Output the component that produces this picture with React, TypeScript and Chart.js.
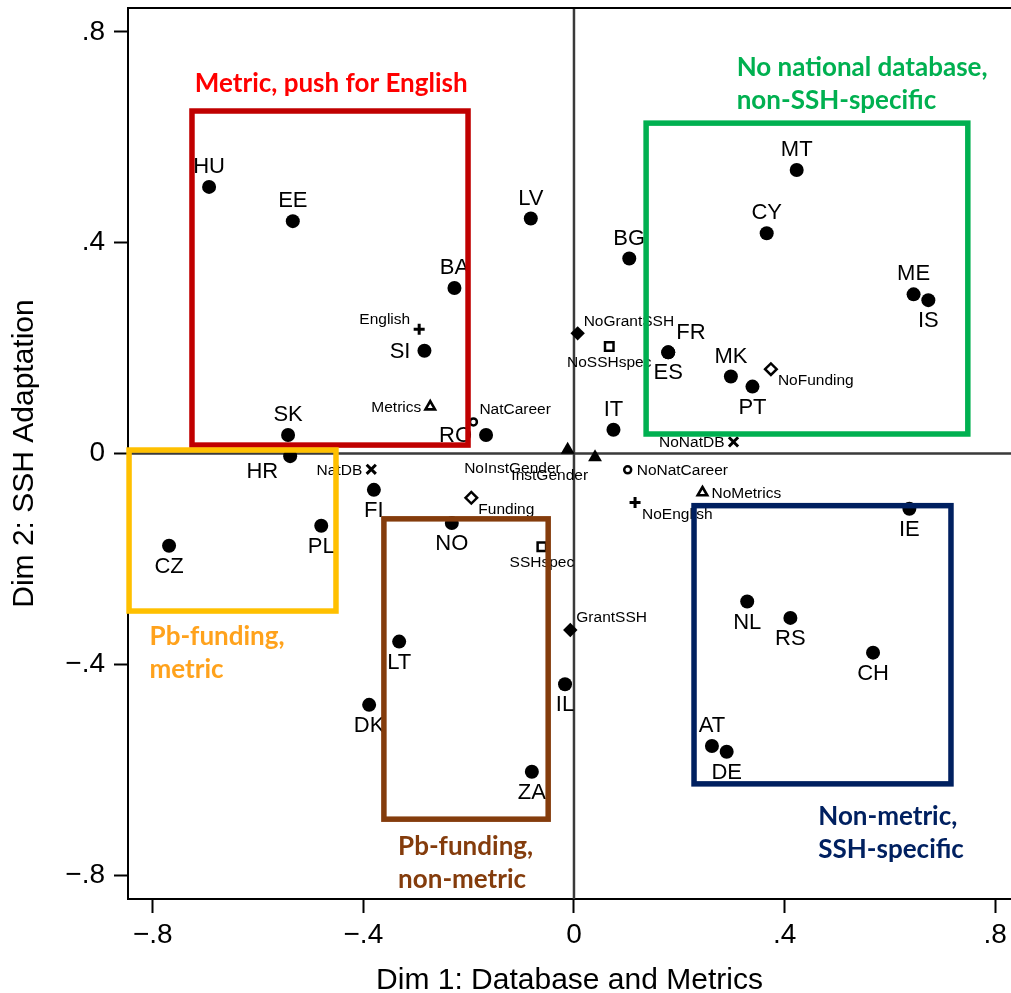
import React, { useEffect, useRef } from 'react';
import { Chart, registerables } from 'chart.js';

Chart.register(...registerables);

// ---------- data ----------
const countryCodes = ['HU', 'EE', 'BA', 'SI', 'SK', 'HR', 'RO', 'LV', 'BG', 'IT', 'FR', 'ES', 'MK', 'PT', 'MT', 'CY', 'ME', 'IS', 'FI', 'PL', 'CZ', 'NO', 'LT', 'DK', 'IL', 'ZA', 'IE', 'NL', 'RS', 'CH', 'AT', 'DE'];
const countryDim1 = [-0.693, -0.534, -0.227, -0.284, -0.543, -0.539, -0.167, -0.082, 0.105, 0.075, 0.179, 0.179, 0.298, 0.339, 0.423, 0.366, 0.645, 0.673, -0.380, -0.480, -0.769, -0.232, -0.332, -0.389, -0.017, -0.080, 0.637, 0.329, 0.411, 0.568, 0.262, 0.290];
const countryDim2 = [0.506, 0.441, 0.314, 0.195, 0.035, -0.005, 0.035, 0.446, 0.370, 0.045, 0.192, 0.192, 0.146, 0.127, 0.538, 0.418, 0.302, 0.291, -0.069, -0.137, -0.175, -0.132, -0.357, -0.477, -0.438, -0.604, -0.105, -0.281, -0.312, -0.378, -0.555, -0.566];

const variableNames = ['English', 'NoEnglish', 'Metrics', 'NoMetrics', 'NatCareer', 'NoNatCareer', 'NatDB', 'NoNatDB', 'Funding', 'NoFunding', 'SSHspec', 'NoSSHspec', 'GrantSSH', 'NoGrantSSH', 'NoInstGender', 'InstGender'];
const variableDim1 = [-0.294, 0.116, -0.273, 0.244, -0.191, 0.102, -0.385, 0.303, -0.195, 0.374, -0.061, 0.067, -0.007, 0.007, -0.012, 0.040];
const variableDim2 = [0.236, -0.093, 0.089, -0.074, 0.060, -0.031, -0.030, 0.022, -0.084, 0.160, -0.177, 0.203, -0.335, 0.228, 0.007, -0.007];

const tickValues = [-0.8, -0.4, 0, 0.4, 0.8];
const tickLabels = ['\u2212.8', '\u2212.4', '0', '.4', '.8'];

const xTitle = 'Dim 1: Database and Metrics';
const yTitle = 'Dim 2: SSH Adaptation';

const groupTitles = [
  ['Metric, push for English'],
  ['No national database,', 'non-SSH-specific'],
  ['Pb-funding,', 'metric'],
  ['Pb-funding,', 'non-metric'],
  ['Non-metric,', 'SSH-specific'],
];

// ---------- layout / style (not data) ----------
const X_MIN = -0.847;
const X_MAX = 0.830;
const Y_MIN = -0.8455;
const Y_MAX = 0.8455;

// group boxes in data coordinates [x1, x2, y1, y2], text anchor [x, y]
const groupBoxes = [
  { box: [-0.7255, -0.2012, 0.650, 0.016], stroke: '#C00000', text: '#FF0000', anchor: [-0.461, 0.702], align: 'center' },
  { box: [0.137, 0.748, 0.627, 0.037], stroke: '#00B050', text: '#00B050', anchor: [0.309, 0.733], align: 'left' },
  { box: [-0.845, -0.452, 0.0066, -0.299], stroke: '#FFC000', text: '#FFA21C', anchor: [-0.806, -0.348], align: 'left' },
  { box: [-0.361, -0.049, -0.124, -0.694], stroke: '#843C0C', text: '#843C0C', anchor: [-0.334, -0.747], align: 'left' },
  { box: [0.228, 0.716, -0.099, -0.627], stroke: '#002060', text: '#002060', anchor: [0.464, -0.690], align: 'left' },
];

const countryLabelPos: Record<string, string> = {
  HU: 't', EE: 't', BA: 't', SI: 'l', SK: 't', HR: 'bl', RO: 'l', LV: 't', BG: 't', IT: 't', FR: 'tr', ES: 'b',
  MK: 't', PT: 'b', MT: 't', CY: 't', ME: 't', IS: 'b', FI: 'b', PL: 'b', CZ: 'b', NO: 'b', LT: 'b', DK: 'b',
  IL: 'b', ZA: 'b', IE: 'b', NL: 'b', RS: 'b', CH: 'b', AT: 't', DE: 'b',
};
const countryOffsets: Record<string, [string, number, number]> = {
  t: ['center', 0, -20], b: ['center', 0, 21], l: ['right', -14, 1], tr: ['left', 8, -19], bl: ['right', -12, 16],
};

const variableLabelPos: Record<string, string> = {
  English: 'tl', NoEnglish: 'br', Metrics: 'l', NoMetrics: 'r', NatCareer: 'tr', NoNatCareer: 'r', NatDB: 'l', NoNatDB: 'l',
  Funding: 'br', NoFunding: 'br', SSHspec: 'b', NoSSHspec: 'b', GrantSSH: 'tr', NoGrantSSH: 'tr', NoInstGender: 'bl', InstGender: 'bl',
};
const variableOffsets: Record<string, [string, number, number]> = {
  l: ['right', -9, 1], r: ['left', 9, 1], tl: ['right', -9, -9], tr: ['left', 6, -12], br: ['left', 7, 12], b: ['center', 0, 16], bl: ['right', -7, 19],
};

type Marker = { style: string; radius: number; fill: string; border: number };
const markerFor = (name: string): Marker => {
  const base = name.replace(/^No/, '');
  switch (base) {
    case 'English': return { style: 'cross', radius: 5.5, fill: '#000', border: 3 };
    case 'Metrics': return { style: 'triangle', radius: 5.5, fill: '#fff', border: 2.6 };
    case 'NatCareer': return { style: 'circle', radius: 3.5, fill: '#fff', border: 2.5 };
    case 'NatDB': return { style: 'crossRot', radius: 6.5, fill: '#000', border: 3 };
    case 'Funding': return { style: 'rectRot', radius: 5.8, fill: '#fff', border: 2.5 };
    case 'SSHspec': return { style: 'rect', radius: 6, fill: '#fff', border: 2.5 };
    case 'GrantSSH': return { style: 'rectRot', radius: 7.2, fill: '#000', border: 0 };
    default: return { style: 'triangle', radius: 8, fill: '#000', border: 0 };
  }
};

const FONT = '"Liberation Sans", Arial, Helvetica, sans-serif';
const noPadding = () => ({ left: 0, top: 0, right: 0, bottom: 0 });

export default function App() {
  const ref = useRef<HTMLCanvasElement | null>(null);

  useEffect(() => {
    document.body.style.margin = '0';
    const canvas = ref.current;
    if (!canvas) return;

    const datasets: any[] = [];
    datasets.push({
      label: 'countries',
      data: countryCodes.map((_, i) => ({ x: countryDim1[i], y: countryDim2[i] })),
      names: countryCodes,
      kind: 'country',
      pointStyle: 'circle',
      pointRadius: 7,
      pointBackgroundColor: '#000',
      pointBorderColor: '#000',
      pointBorderWidth: 0,
    });
    const groups: Record<string, number[]> = {};
    variableNames.forEach((n, i) => {
      const m = markerFor(n);
      const key = m.style + '|' + m.fill + '|' + m.radius;
      (groups[key] = groups[key] || []).push(i);
    });
    Object.keys(groups).forEach((key) => {
      const idx = groups[key];
      const m = markerFor(variableNames[idx[0]]);
      datasets.push({
        label: key,
        data: idx.map((i) => ({ x: variableDim1[i], y: variableDim2[i] })),
        names: idx.map((i) => variableNames[i]),
        kind: 'variable',
        pointStyle: m.style,
        pointRadius: m.radius,
        pointBackgroundColor: m.fill,
        pointBorderColor: '#000',
        pointBorderWidth: m.border,
      });
    });

    const overlay = {
      id: 'overlay',
      beforeDatasetsDraw(chart: any) {
        const { ctx, chartArea: a, scales } = chart;
        const x0 = scales.x.getPixelForValue(0);
        const y0 = scales.y.getPixelForValue(0);
        ctx.save();
        ctx.strokeStyle = '#3a3a3a';
        ctx.lineWidth = 2.5;
        ctx.beginPath();
        ctx.moveTo(x0, a.top);
        ctx.lineTo(x0, a.bottom);
        ctx.moveTo(a.left, y0);
        ctx.lineTo(a.right, y0);
        ctx.stroke();
        ctx.restore();
      },
      afterDatasetsDraw(chart: any) {
        const { ctx, scales } = chart;
        ctx.save();
        ctx.fillStyle = '#000';
        chart.data.datasets.forEach((ds: any, di: number) => {
          const meta = chart.getDatasetMeta(di);
          const isCountry = ds.kind === 'country';
          ctx.font = (isCountry ? '22px ' : '15.5px ') + FONT;
          ctx.textBaseline = 'middle';
          meta.data.forEach((pt: any, i: number) => {
            const name = ds.names[i];
            const pos = isCountry ? countryLabelPos[name] : variableLabelPos[name];
            const off = isCountry ? countryOffsets[pos] : variableOffsets[pos];
            ctx.textAlign = off[0];
            ctx.fillText(name, pt.x + off[1], pt.y + off[2]);
          });
        });
        groupBoxes.forEach((g, gi) => {
          const [bx1, bx2, by1, by2] = g.box;
          const px1 = scales.x.getPixelForValue(bx1);
          const px2 = scales.x.getPixelForValue(bx2);
          const py1 = scales.y.getPixelForValue(by1);
          const py2 = scales.y.getPixelForValue(by2);
          ctx.strokeStyle = g.stroke;
          ctx.lineWidth = 5.5;
          ctx.lineJoin = 'miter';
          ctx.strokeRect(px1, py1, px2 - px1, py2 - py1);
          ctx.fillStyle = g.text;
          ctx.font = 'bold 26px Lato, "Open Sans", sans-serif';
          ctx.textAlign = g.align;
          ctx.textBaseline = 'middle';
          const ax = scales.x.getPixelForValue(g.anchor[0]);
          const ay = scales.y.getPixelForValue(g.anchor[1]);
          groupTitles[gi].forEach((line, li) => {
            ctx.fillText(line, ax, ay + li * 33);
          });
        });
        ctx.restore();
      },
      afterDraw(chart: any) {
        const { ctx, chartArea: a } = chart;
        ctx.save();
        ctx.strokeStyle = '#000';
        ctx.lineWidth = 2;
        ctx.beginPath();
        ctx.moveTo(a.left - 1, a.top);
        ctx.lineTo(a.right, a.top);
        ctx.stroke();
        ctx.restore();
      },
    };

    const tickCallback = (v: any) => {
      const k = tickValues.findIndex((t) => Math.abs(t - Number(v)) < 1e-6);
      return k >= 0 ? tickLabels[k] : '';
    };

    const chart = new Chart(canvas, {
      type: 'scatter',
      data: { datasets },
      options: {
        animation: false,
        responsive: false,
        events: [],
        layout: { autoPadding: false, padding: { top: 8, left: 0, right: 0, bottom: 0 } },
        plugins: { legend: { display: false }, tooltip: { enabled: false } },
        scales: {
          x: {
            type: 'linear',
            min: X_MIN,
            max: X_MAX,
            afterFit: (s: any) => { s.height = 94; s.paddingLeft = 0; s.paddingRight = 0; s.getPadding = noPadding; },
            afterBuildTicks: (s: any) => { s.ticks = tickValues.map((v) => ({ value: v })); },
            ticks: { callback: tickCallback, font: { family: FONT, size: 28 }, color: '#000', padding: 5, maxRotation: 0, autoSkip: false },
            grid: { drawOnChartArea: false, drawTicks: true, tickLength: 14, tickColor: '#000', tickWidth: 2 },
            border: { display: true, color: '#000', width: 2 },
            title: { display: true, text: xTitle, color: '#000', font: { family: FONT, size: 30, lineHeight: 0.8 }, padding: { top: 0, bottom: 0 } },
          },
          y: {
            type: 'linear',
            min: Y_MIN,
            max: Y_MAX,
            afterFit: (s: any) => { s.width = 128; s.paddingTop = 0; s.paddingBottom = 0; s.getPadding = noPadding; },
            afterBuildTicks: (s: any) => { s.ticks = tickValues.map((v) => ({ value: v })); },
            ticks: { callback: tickCallback, font: { family: FONT, size: 28 }, color: '#000', padding: 9, autoSkip: false },
            grid: { drawOnChartArea: false, drawTicks: true, tickLength: 14, tickColor: '#000', tickWidth: 2 },
            border: { display: true, color: '#000', width: 2 },
            title: { display: true, text: yTitle, color: '#000', font: { family: FONT, size: 30, lineHeight: 1 }, padding: { top: 10, bottom: 0 } },
          },
        },
      } as any,
      plugins: [overlay as any],
    });
    return () => chart.destroy();
  }, []);

  return (
    <div style={{ width: 1011, height: 993, position: 'relative' }}>
      <canvas ref={ref} width={1011} height={993} />
    </div>
  );
}
